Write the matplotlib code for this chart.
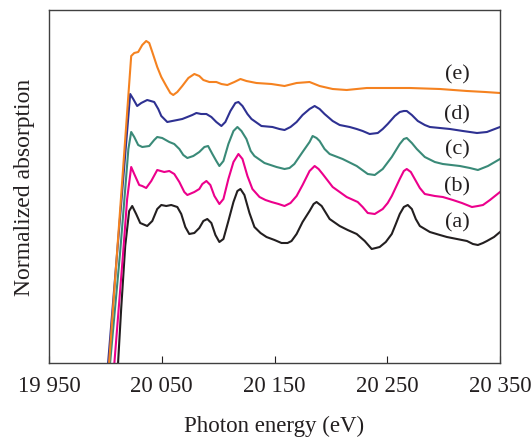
import matplotlib
matplotlib.use("Agg")
import matplotlib.pyplot as plt

plt.rcParams['font.family'] = ['Liberation Serif', 'DejaVu Serif']

# Photon energy (eV) and normalized absorption (offset) for each spectrum
e_a = [20010.7, 20014.0, 20017.6, 20021.1, 20023.8, 20027.3, 20030.9, 20037.1, 20041.6, 20046.0,
       20049.6, 20054.0, 20058.4, 20063.8, 20067.3, 20070.9, 20074.4, 20078.9, 20083.3, 20086.9,
       20090.4, 20094.0, 20097.6, 20101.1, 20104.7, 20109.1, 20113.6, 20117.1, 20119.8, 20123.3,
       20127.8, 20132.2, 20137.6, 20142.9, 20150.0, 20156.2, 20161.6, 20165.1, 20169.6, 20174.9,
       20181.1, 20184.7, 20187.3, 20191.8, 20198.9, 20207.8, 20214.9, 20222.9, 20230.0, 20236.2,
       20239.8, 20243.3, 20248.7, 20254.0, 20257.6, 20261.1, 20264.7, 20268.2, 20271.8, 20275.3,
       20278.9, 20287.8, 20296.7, 20302.9, 20311.8, 20320.7, 20326.0, 20330.4, 20334.9, 20338.4,
       20344.7, 20350.0]
a_vals = [-0.11, 0.54, 1.17, 1.52, 1.57, 1.49, 1.40, 1.37, 1.42, 1.54,
          1.58, 1.57, 1.58, 1.56, 1.49, 1.36, 1.29, 1.30, 1.35, 1.42,
          1.44, 1.40, 1.28, 1.21, 1.24, 1.42, 1.61, 1.72, 1.74, 1.68,
          1.50, 1.36, 1.30, 1.26, 1.23, 1.20, 1.20, 1.22, 1.29, 1.41,
          1.52, 1.59, 1.61, 1.57, 1.44, 1.37, 1.33, 1.29, 1.22, 1.14,
          1.15, 1.16, 1.21, 1.29, 1.39, 1.49, 1.56, 1.58, 1.54, 1.44,
          1.37, 1.31, 1.28, 1.26, 1.24, 1.22, 1.19, 1.18, 1.20, 1.22,
          1.26, 1.31]

e_b = [20007.2, 20015.8, 20019.3, 20022.9, 20025.6, 20030.0, 20032.7, 20036.2, 20040.7, 20046.0,
       20052.2, 20056.7, 20061.1, 20065.6, 20070.0, 20072.7, 20078.9, 20083.3, 20086.0, 20089.6,
       20093.1, 20096.7, 20101.1, 20104.7, 20109.1, 20113.6, 20118.0, 20121.6, 20126.0, 20130.4,
       20136.7, 20142.0, 20147.3, 20153.6, 20158.9, 20164.2, 20169.6, 20174.9, 20181.1, 20185.6,
       20189.1, 20192.7, 20201.6, 20207.8, 20214.0, 20223.8, 20228.2, 20232.7, 20238.9, 20246.0,
       20250.4, 20254.0, 20261.1, 20264.7, 20267.3, 20270.9, 20274.4, 20278.9, 20283.3, 20292.2,
       20299.3, 20308.2, 20316.2, 20325.1, 20330.4, 20334.9, 20341.1, 20350.0]
b_vals = [-0.11, 1.11, 1.64, 1.96, 1.89, 1.78, 1.77, 1.75, 1.82, 1.93,
          1.91, 1.92, 1.89, 1.81, 1.71, 1.68, 1.71, 1.74, 1.79, 1.82,
          1.78, 1.67, 1.59, 1.64, 1.84, 2.01, 2.09, 2.04, 1.87, 1.74,
          1.66, 1.63, 1.61, 1.59, 1.57, 1.60, 1.67, 1.78, 1.92, 1.97,
          1.94, 1.89, 1.76, 1.71, 1.66, 1.61, 1.56, 1.50, 1.49, 1.54,
          1.60, 1.67, 1.84, 1.92, 1.94, 1.91, 1.84, 1.75, 1.69, 1.67,
          1.66, 1.63, 1.60, 1.56, 1.57, 1.58, 1.63, 1.71]

e_c = [20003.3, 20013.1, 20017.6, 20020.4, 20022.9, 20025.6, 20029.1, 20032.7, 20038.9, 20043.3,
       20046.0, 20050.4, 20056.7, 20061.1, 20065.6, 20069.1, 20072.7, 20078.0, 20083.3, 20087.8,
       20091.1, 20094.9, 20098.4, 20101.1, 20104.7, 20109.1, 20113.6, 20117.1, 20120.7, 20125.1,
       20128.9, 20132.2, 20141.1, 20151.8, 20158.9, 20163.3, 20167.6, 20174.9, 20181.1, 20183.8,
       20187.3, 20190.0, 20194.4, 20198.9, 20210.4, 20222.9, 20232.7, 20238.9, 20246.0, 20254.0,
       20261.1, 20264.7, 20267.3, 20271.8, 20276.2, 20283.3, 20292.2, 20299.3, 20314.4, 20323.3,
       20330.4, 20339.3, 20350.0]
c_vals = [-0.11, 1.11, 1.74, 2.14, 2.31, 2.26, 2.18, 2.16, 2.17, 2.23,
          2.26, 2.25, 2.21, 2.19, 2.14, 2.08, 2.05, 2.07, 2.11, 2.16,
          2.17, 2.09, 2.02, 1.97, 2.02, 2.19, 2.32, 2.36, 2.32, 2.24,
          2.12, 2.07, 2.00, 1.96, 1.94, 1.95, 1.99, 2.11, 2.21, 2.27,
          2.25, 2.22, 2.14, 2.09, 2.04, 1.97, 1.89, 1.88, 1.94, 2.06,
          2.19, 2.24, 2.25, 2.20, 2.14, 2.06, 2.01, 1.99, 1.97, 1.95,
          1.93, 1.97, 2.04]

e_d = [20001.6, 20022.0, 20024.7, 20028.2, 20031.8, 20037.1, 20043.3, 20046.9, 20049.6, 20054.9,
       20059.3, 20063.8, 20068.2, 20072.7, 20077.1, 20080.7, 20084.9, 20089.6, 20094.0, 20098.4,
       20102.9, 20106.4, 20110.9, 20115.3, 20118.0, 20121.6, 20126.0, 20129.6, 20138.4, 20148.2,
       20154.4, 20158.9, 20164.2, 20169.6, 20174.9, 20181.1, 20185.6, 20190.0, 20194.4, 20201.6,
       20207.8, 20216.7, 20222.9, 20228.2, 20234.4, 20241.6, 20246.0, 20250.4, 20256.7, 20261.1,
       20264.7, 20267.3, 20271.8, 20277.1, 20283.3, 20287.8, 20296.7, 20305.6, 20317.1, 20329.6,
       20338.4, 20350.0]
d_vals = [-0.11, 2.69, 2.64, 2.57, 2.60, 2.63, 2.61, 2.54, 2.47, 2.41,
          2.42, 2.43, 2.44, 2.46, 2.48, 2.50, 2.49, 2.49, 2.46, 2.41,
          2.37, 2.41, 2.52, 2.60, 2.61, 2.57, 2.49, 2.44, 2.37, 2.36,
          2.34, 2.33, 2.36, 2.41, 2.48, 2.54, 2.57, 2.54, 2.49, 2.42,
          2.38, 2.36, 2.34, 2.32, 2.29, 2.30, 2.34, 2.39, 2.47, 2.51,
          2.52, 2.52, 2.48, 2.42, 2.38, 2.36, 2.35, 2.34, 2.32, 2.30,
          2.31, 2.36]

e_e = [20002.6, 20022.9, 20025.6, 20029.1, 20032.7, 20036.2, 20038.9, 20041.6, 20046.0, 20049.6,
       20054.0, 20057.6, 20060.2, 20063.8, 20068.2, 20073.6, 20078.9, 20083.3, 20086.9, 20092.2,
       20098.4, 20102.9, 20108.2, 20114.4, 20119.8, 20125.1, 20134.0, 20147.3, 20158.9, 20169.6,
       20181.1, 20190.0, 20201.6, 20214.0, 20231.8, 20252.2, 20270.0, 20296.7, 20320.7, 20336.9,
       20350.0]
e_vals = [-0.11, 3.07, 3.10, 3.11, 3.18, 3.22, 3.20, 3.11, 2.96, 2.86,
          2.77, 2.70, 2.68, 2.71, 2.77, 2.85, 2.89, 2.87, 2.83, 2.81,
          2.81, 2.79, 2.78, 2.81, 2.84, 2.82, 2.80, 2.79, 2.77, 2.80,
          2.81, 2.77, 2.74, 2.73, 2.75, 2.75, 2.75, 2.74, 2.72, 2.71,
          2.70]

series_labels = ['(a)', '(b)', '(c)', '(d)', '(e)']
label_energy = 20311.8
label_levels = [1.41, 1.77, 2.14, 2.49, 2.89]
xtick_values = [19950, 20050, 20150, 20250, 20350]
xtick_labels = ['19 950', '20 050', '20 150', '20 250', '20 350']

colors = ['#231F20', '#EC008C', '#3A8A78', '#2E3192', '#F58220']

fig = plt.figure(figsize=(5.31, 4.39), dpi=100)
ax = fig.add_axes([49 / 531, 75 / 439, 451 / 531, 353 / 439])

for e, v, c in zip([e_a, e_b, e_c, e_d, e_e], [a_vals, b_vals, c_vals, d_vals, e_vals], colors):
    ax.plot(e, v, color=c, lw=1.5, solid_joinstyle='round')

for lab, lv in zip(series_labels, label_levels):
    ax.text(label_energy, lv, lab, fontsize=16, ha='center', va='center', color='#231F20')

ax.set_xlim(19950, 20350)
ax.set_ylim(0, 3.53)
ax.set_xticks(xtick_values)
ax.set_xticklabels(xtick_labels)
ax.set_yticks([])
ax.tick_params(axis='x', direction='in', length=5, width=0.8, pad=9, labelsize=16.5, colors='#231F20')
for s in ax.spines.values():
    s.set_linewidth(1.0)
    s.set_color('#404040')

ax.set_xlabel('Photon energy (eV)', fontsize=16.5, color='#231F20', labelpad=13)
ax.set_ylabel('Normalized absorption', fontsize=17, color='#231F20', labelpad=10)

fig.savefig('out.png', dpi=100)
